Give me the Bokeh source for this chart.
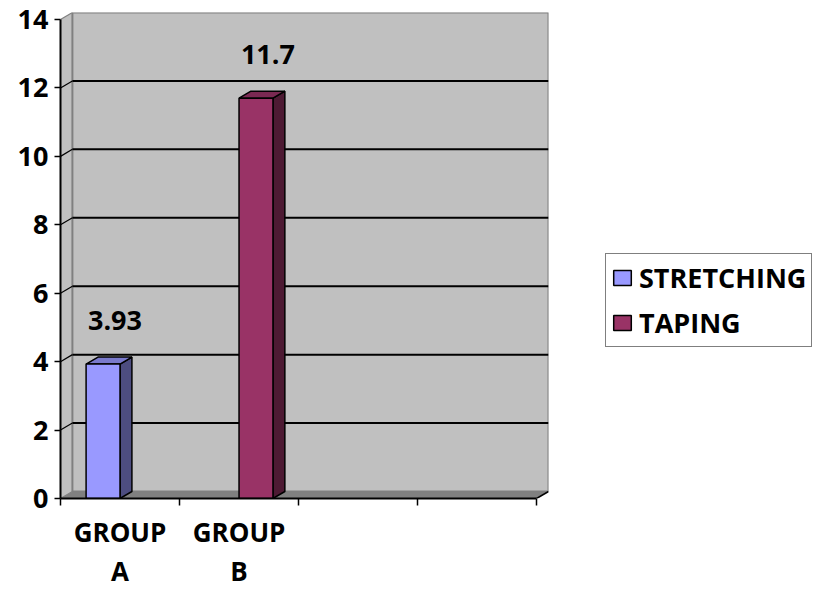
from bokeh.plotting import figure
from bokeh.models import Range1d, FixedTicker, Legend, LegendItem
from bokeh.core.properties import value
from bokeh.embed import file_html
from bokeh.resources import INLINE

# Chart data
categories = ["GROUP A", "GROUP B", "", ""]
category_labels = ["GROUP\nA", "GROUP\nB", "", ""]
series_names = ["STRETCHING", "TAPING"]
stretching = [3.93, None, None, None]
taping = [None, 11.7, None, None]
y_ticks = [0, 2, 4, 6, 8, 10, 12, 14]

series_values = [stretching, taping]
front_colors = ["#9999FF", "#993366"]
side_colors = ["#4D4D80", "#4D1A33"]
top_colors = ["#7A7ACC", "#7A2952"]

FONT = "Open Sans"
FONT_SIZE = "27px"
n = len(categories)
y_max = y_ticks[-1]
DX = 0.1      # 3D depth, in category units
DY = 0.205    # 3D depth, in value units
BAR_W = 0.285

p = figure(frame_width=488, frame_height=486,
           x_range=Range1d(0, n + DX), y_range=Range1d(0, y_max + DY),
           output_backend="svg", toolbar_location=None,
           min_border_left=60, min_border_right=270,
           min_border_top=12, min_border_bottom=80)
p.outline_line_color = None
p.xgrid.visible = False
p.ygrid.visible = False
p.background_fill_color = "white"
p.border_fill_color = "white"

# walls and floor
p.patch([0, DX, DX, 0], [0, DY, y_max + DY, y_max],
        fill_color="#C0C0C0", line_color=None)
p.quad(left=DX, right=n + DX, bottom=DY, top=y_max + DY,
       fill_color="#C0C0C0", line_color="#808080", line_width=2)
p.patch([0, n, n + DX, DX], [0, 0, DY, DY],
        fill_color="#808080", line_color=None)
p.segment(x0=[n], y0=[0], x1=[n + DX], y1=[DY], line_color="black", line_width=1.5)

# gridlines on the back wall, with their continuation across the side wall
inner = y_ticks[1:-1]
p.segment(x0=[DX] * len(inner), y0=[t + DY for t in inner],
          x1=[n + DX] * len(inner), y1=[t + DY for t in inner],
          line_color="black", line_width=2)
p.segment(x0=[0] * len(inner), y0=inner,
          x1=[DX] * len(inner), y1=[t + DY for t in inner],
          line_color="black", line_width=1.2)
p.segment(x0=[0, 0], y0=[y_ticks[0], y_max], x1=[DX, DX],
          y1=[y_ticks[0] + DY, y_max + DY], line_color="#808080", line_width=1.2)

# 3D bars
legend_items = []
for s, vals in enumerate(series_values):
    fx0, fx1, ftop = [], [], []
    sxs, sys_, txs, tys = [], [], [], []
    lx, ly, lt = [], [], []
    for i, v in enumerate(vals):
        if v is None:
            continue
        c = i + 0.5
        x0 = c - BAR_W if s == 0 else c
        x1 = x0 + BAR_W
        fx0.append(x0); fx1.append(x1); ftop.append(v)
        sxs.append([x1, x1 + DX, x1 + DX, x1])
        sys_.append([0, DY, v + DY, v])
        txs.append([x0, x1, x1 + DX, x0 + DX])
        tys.append([v, v, v + DY, v + DY])
        lx.append((x0 + x1) / 2 + DX)
        ly.append(v + DY)
        lt.append(f"{v:g}")
    p.patches(sxs, sys_, fill_color=side_colors[s], line_color="black", line_width=1.5)
    p.patches(txs, tys, fill_color=top_colors[s], line_color="black", line_width=1.5)
    r = p.quad(left=fx0, right=fx1, bottom=0, top=ftop,
               fill_color=front_colors[s], line_color="black", line_width=1.5)
    p.text(x=lx, y=ly, text=lt, text_font=value(FONT), text_font_style="bold",
           text_font_size=FONT_SIZE, text_align="center", text_baseline="middle",
           text_color="black", y_offset=-37)
    legend_items.append(LegendItem(label=series_names[s], renderers=[r]))

# axes
p.yaxis.ticker = FixedTicker(ticks=y_ticks)
p.yaxis.bounds = (0, y_max)
p.yaxis.axis_line_width = 2
p.yaxis.major_tick_out = 6
p.yaxis.major_tick_in = 0
p.yaxis.major_tick_line_width = 1.5
p.yaxis.minor_tick_line_color = None
p.yaxis.major_label_standoff = 6
p.yaxis.major_label_text_font = FONT
p.yaxis.major_label_text_font_style = "bold"
p.yaxis.major_label_text_font_size = FONT_SIZE
p.yaxis.major_label_text_color = "black"

centers = [i + 0.5 for i in range(n)]
p.xaxis.ticker = FixedTicker(ticks=centers, minor_ticks=list(range(n + 1)))
p.xaxis.bounds = (0, n)
p.xaxis.axis_line_width = 2
p.xaxis.major_tick_line_color = None
p.xaxis.minor_tick_out = 7
p.xaxis.minor_tick_in = 0
p.xaxis.minor_tick_line_width = 1.5
p.xaxis.minor_tick_line_color = "black"
p.xaxis.major_label_overrides = {c: lab for c, lab in zip(centers, category_labels)}
p.xaxis.major_label_standoff = 8
p.xaxis.major_label_text_font = FONT
p.xaxis.major_label_text_font_style = "bold"
p.xaxis.major_label_text_font_size = "26px"
p.xaxis.major_label_text_line_height = 1.1
p.xaxis.major_label_text_color = "black"

legend = Legend(items=legend_items, location=(57, 151),
                border_line_color="black", border_line_width=1.5,
                background_fill_color="white", background_fill_alpha=1,
                label_text_font=FONT, label_text_font_style="bold",
                label_text_font_size=FONT_SIZE, label_text_color="black",
                glyph_width=22, glyph_height=19, label_standoff=6,
                label_height=30, spacing=8, padding=5, margin=0)
p.add_layout(legend, "right")

open("out.html", "w").write(file_html(p, INLINE))
